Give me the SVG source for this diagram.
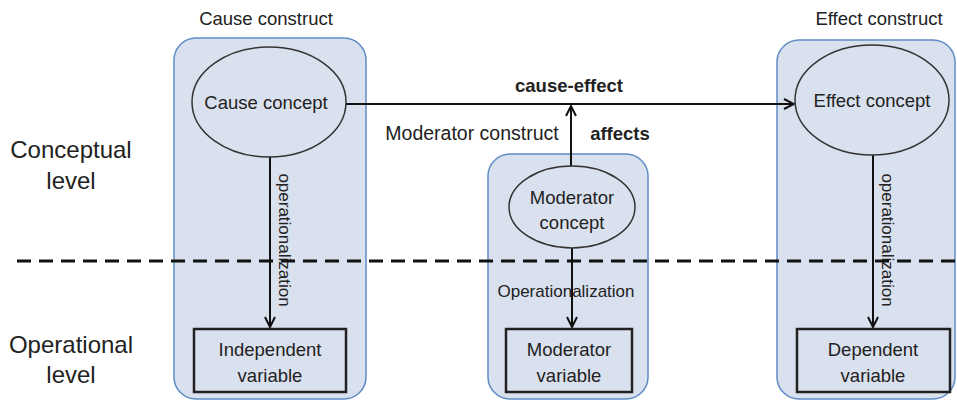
<svg xmlns="http://www.w3.org/2000/svg" width="957" height="400" viewBox="0 0 957 400">
<defs>
<marker id="ah" viewBox="0 0 12 12" refX="11" refY="6" markerWidth="12" markerHeight="12" markerUnits="userSpaceOnUse" orient="auto">
<path d="M1,1 L11,6 L1,11" fill="none" stroke="#111" stroke-width="2"/>
</marker>
<style>
text{font-family:"Liberation Sans",Arial,sans-serif;fill:#222}
.panel{fill:#dae1ee;stroke:#5f8cc4;stroke-width:1.5}
.ell{fill:#dae1ee;stroke:#333;stroke-width:1.5}
.box{fill:#dae1ee;stroke:#222;stroke-width:2.5}
.t{font-size:18.5px;text-anchor:middle}
.lvl{font-size:24px;text-anchor:middle}
.lab{font-size:17px}
.b{font-weight:bold}
.arr{stroke:#111;stroke-width:2;fill:none;marker-end:url(#ah)}
</style>
</defs>
<rect width="957" height="400" fill="#fff"/>
<g id="levels">
<text class="lvl" x="71" y="158">Conceptual</text>
<text class="lvl" x="71" y="189">level</text>
<text class="lvl" x="71" y="353">Operational</text>
<text class="lvl" x="71" y="383">level</text>
</g>
<g id="cause-construct">
<text class="t" x="266" y="25">Cause construct</text>
<rect class="panel" x="174" y="38" width="192" height="361" rx="22"/>
</g>
<g id="moderator-construct">
<text class="t" x="472" y="140" style="font-size:19.5px">Moderator construct</text>
<rect class="panel" x="488" y="154" width="160" height="245" rx="22"/>
</g>
<g id="effect-construct">
<text class="t" x="879" y="25">Effect construct</text>
<rect class="panel" x="777" y="40" width="178" height="359" rx="22"/>
</g>
<g id="divider">
<line x1="17" y1="261" x2="957" y2="261" stroke="#111" stroke-width="3" stroke-dasharray="14 8"/>
</g>
<g id="connectors">
<line class="arr" x1="346" y1="104" x2="794" y2="104"/>
<line class="arr" x1="571" y1="166" x2="571" y2="106"/>
<line class="arr" x1="270" y1="157" x2="270" y2="327"/>
<line class="arr" x1="572" y1="248" x2="572" y2="327"/>
<line class="arr" x1="873" y1="155" x2="873" y2="327"/>
<text class="t b" x="569" y="92">cause-effect</text>
<text class="t b" x="620" y="140">affects</text>
<text class="lab" text-anchor="middle" transform="translate(279,240) rotate(90)">operationalization</text>
<text class="lab" text-anchor="middle" transform="translate(882,240) rotate(90)">operationalization</text>
<text class="lab" text-anchor="middle" x="566" y="297">Operationalization</text>
</g>
<g id="cause-concept">
<ellipse class="ell" cx="269" cy="102" rx="77" ry="55"/>
<text class="t" x="266" y="109">Cause concept</text>
</g>
<g id="moderator-concept">
<ellipse class="ell" cx="572" cy="207" rx="63" ry="41"/>
<text class="t" x="572" y="204">Moderator</text>
<text class="t" x="572" y="229">concept</text>
</g>
<g id="effect-concept">
<ellipse class="ell" cx="872" cy="100" rx="77" ry="55"/>
<text class="t" x="872" y="107">Effect concept</text>
</g>
<g id="independent-variable">
<rect class="box" x="194" y="329" width="152" height="63"/>
<text class="t" x="270" y="356">Independent</text>
<text class="t" x="270" y="382">variable</text>
</g>
<g id="moderator-variable">
<rect class="box" x="506" y="329" width="126" height="63"/>
<text class="t" x="569" y="356">Moderator</text>
<text class="t" x="569" y="382">variable</text>
</g>
<g id="dependent-variable">
<rect class="box" x="797" y="329" width="153" height="63"/>
<text class="t" x="873" y="356">Dependent</text>
<text class="t" x="873" y="382">variable</text>
</g>
</svg>
